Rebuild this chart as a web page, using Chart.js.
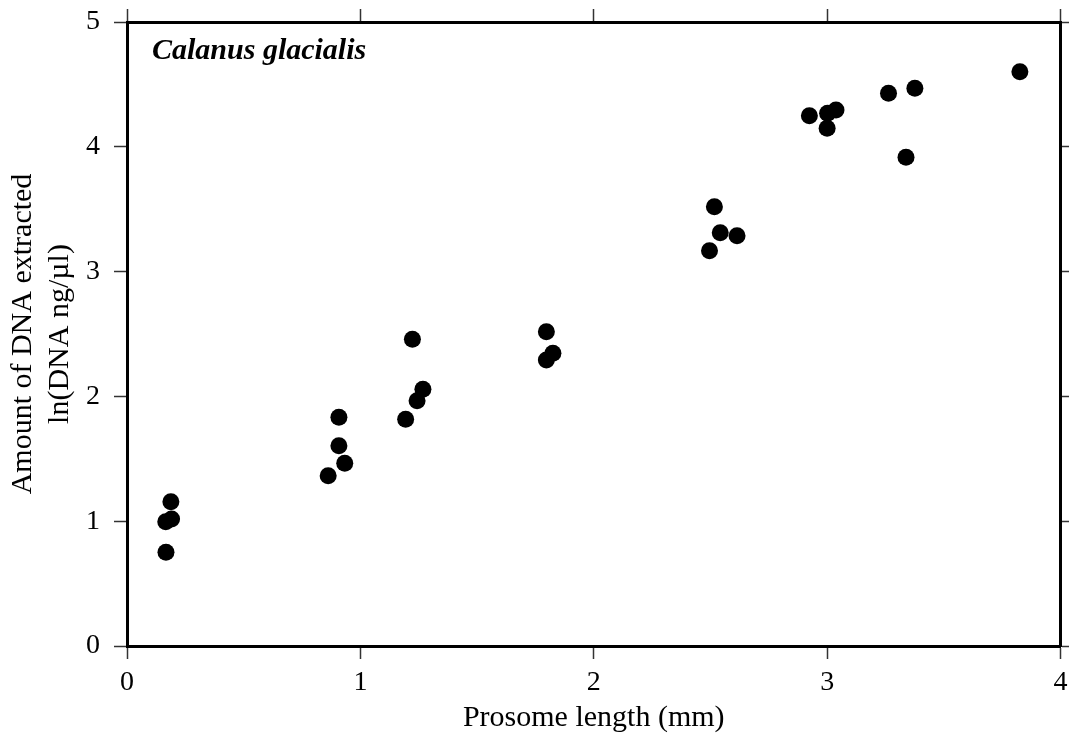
<!DOCTYPE html>
<html>
<head>
<meta charset="utf-8">
<script src="https://cdn.jsdelivr.net/npm/chart.js@4/dist/chart.umd.min.js"></script>
<style>
  html, body { margin: 0; padding: 0; background: #ffffff; }
  #wrap { width: 1069px; height: 738px; }
</style>
</head>
<body>
<div id="wrap"><canvas id="c" width="1069" height="738"></canvas></div>
<script>
// Prosome length (mm)
const prosomeLength = [
  0.188, 0.191, 0.166, 0.167,
  0.908, 0.908, 0.933, 0.862,
  1.223, 1.268, 1.243, 1.194,
  1.797, 1.825, 1.797,
  2.517, 2.542, 2.614, 2.496,
  2.924, 3.002, 3.038, 3.000,
  3.263, 3.376, 3.338, 3.826
];
// ln(DNA ng/µl)
const lnDNA = [
  1.156, 1.018, 0.996, 0.751,
  1.833, 1.605, 1.464, 1.365,
  2.458, 2.057, 1.966, 1.817,
  2.518, 2.345, 2.292,
  3.520, 3.312, 3.288, 3.167,
  4.249, 4.268, 4.295, 4.148,
  4.429, 4.469, 3.916, 4.602
];
const xTicks = [0, 1, 2, 3, 4];
const yTicks = [0, 1, 2, 3, 4, 5];
const xTitle = 'Prosome length (mm)';
const yTitle = ['Amount of DNA extracted', 'ln(DNA ng/µl)'];
const speciesLabel = 'Calanus glacialis';

const points = prosomeLength.map((x, i) => ({ x: x, y: lnDNA[i] }));

const SERIF = '"Liberation Serif", "Times New Roman", serif';

const speciesPlugin = {
  id: 'speciesLabel',
  afterDraw(chart) {
    const { ctx, chartArea } = chart;
    ctx.save();
    ctx.font = 'italic bold 30px ' + SERIF;
    ctx.fillStyle = '#000';
    ctx.textAlign = 'left';
    ctx.textBaseline = 'alphabetic';
    ctx.fillText(speciesLabel, chartArea.left + 25, chartArea.top + 37);
    ctx.restore();
  }
};

function fixedTicks(values) {
  return function (scale) {
    scale.ticks = values.map(v => ({ value: v }));
  };
}
function fitBox(w, h) {
  return function (s) {
    if (w !== null) s.width = w;
    if (h !== null) s.height = h;
    s.paddingLeft = 0; s.paddingRight = 0; s.paddingTop = 0; s.paddingBottom = 0;
  };
}

const frameGrid = {
  drawOnChartArea: false,
  drawTicks: true,
  tickLength: 13,
  tickColor: '#333',
  tickWidth: 1.5,
  color: '#333'
};
const frameBorder = { display: true, width: 3, color: '#000' };

new Chart(document.getElementById('c'), {
  type: 'scatter',
  data: {
    datasets: [{
      data: points,
      backgroundColor: '#000',
      borderWidth: 0,
      pointRadius: 8.5,
      pointHoverRadius: 8.5
    }]
  },
  options: {
    responsive: false,
    animation: false,
    layout: { padding: 0 },
    plugins: { legend: { display: false }, tooltip: { enabled: false } },
    scales: {
      x: {
        type: 'linear', position: 'bottom', min: 0, max: 4,
        afterBuildTicks: fixedTicks(xTicks),
        afterFit: fitBox(null, 92),
        grid: frameGrid, border: frameBorder,
        ticks: { color: '#000', padding: 7, font: { family: SERIF, size: 28 }, maxRotation: 0 },
        title: { display: true, text: xTitle, color: '#000', padding: { top: 0, bottom: 1 }, font: { family: SERIF, size: 30, lineHeight: 1.25 } }
      },
      x2: {
        type: 'linear', position: 'top', min: 0, max: 4,
        afterBuildTicks: fixedTicks(xTicks),
        afterFit: fitBox(null, 22),
        grid: frameGrid, border: frameBorder,
        ticks: { display: false }
      },
      y: {
        type: 'linear', position: 'left', min: 0, max: 5,
        afterBuildTicks: fixedTicks(yTicks),
        afterFit: fitBox(127, null),
        grid: frameGrid, border: frameBorder,
        ticks: { color: '#000', padding: 14, font: { family: SERIF, size: 28 } },
        title: { display: true, text: yTitle, color: '#000', padding: { top: 4, bottom: 0 }, font: { family: SERIF, size: 30, lineHeight: 1.25 } }
      },
      y2: {
        type: 'linear', position: 'right', min: 0, max: 5,
        afterBuildTicks: fixedTicks(yTicks),
        afterFit: fitBox(8, null),
        grid: frameGrid, border: frameBorder,
        ticks: { display: false }
      }
    }
  },
  plugins: [speciesPlugin]
});
</script>
</body>
</html>
